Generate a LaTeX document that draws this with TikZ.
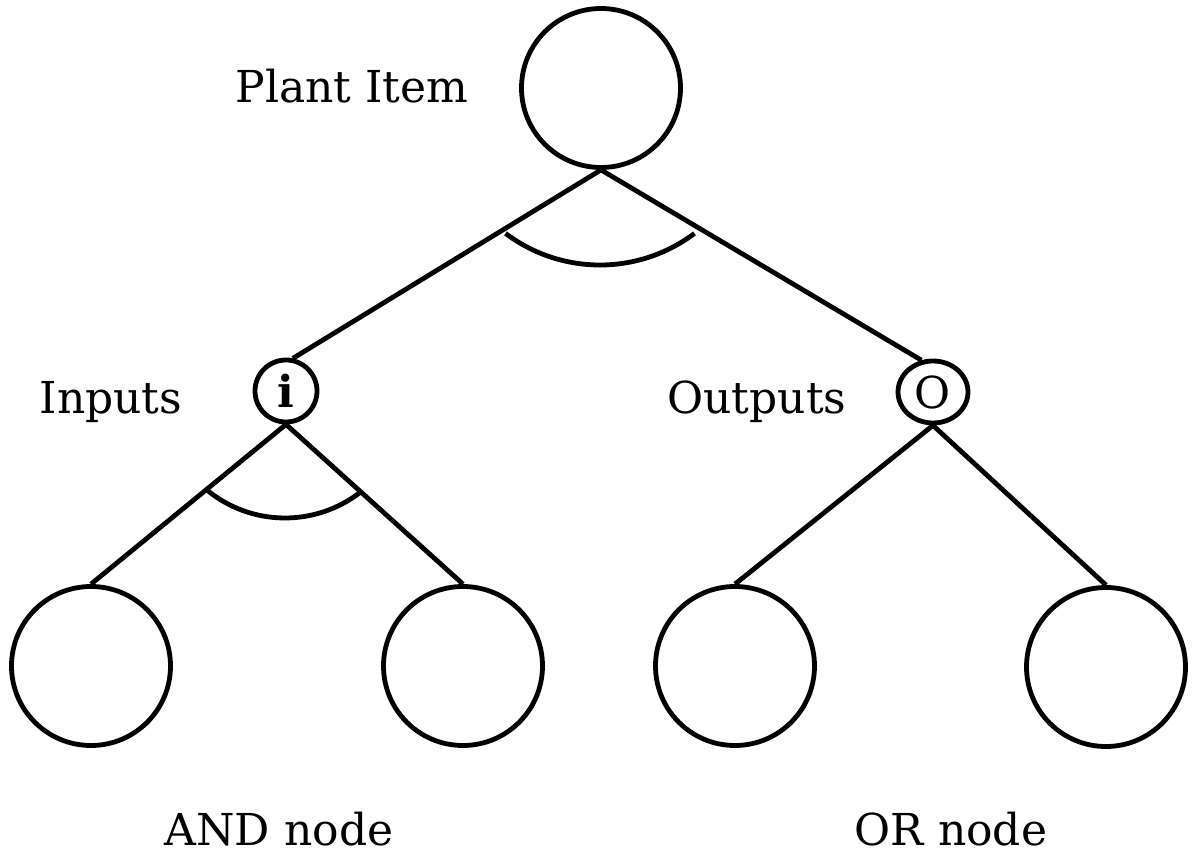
\documentclass[tikz,border=0pt]{standalone}
\usepackage{fontspec}
\setmainfont{DejaVu Serif}
\usepackage{tikz}
\usetikzlibrary{shapes.geometric}

\begin{document}
\begin{tikzpicture}[x=0.5pt,y=-0.5pt,line width=2.4pt,
    big/.style={draw,circle,minimum size=79.5pt,inner sep=0pt},
    small/.style={draw,circle,minimum size=31pt,inner sep=0pt,font=\fontsize{22}{26}\selectfont},
    oval/.style={draw,ellipse,minimum width=35pt,minimum height=31pt,inner sep=0pt,font=\fontsize{22}{26}\selectfont},
    lab/.style={anchor=base,inner sep=0pt,font=\fontsize{22}{26}\selectfont}]
  \useasboundingbox (0,0) rectangle (1199,855);

    \node[big] (a) at (601, 88) {};
    \node[small] (b) at (286, 391) {\bfseries i};
    \node[oval] (c) at (933, 392) {O};
    \node[big] (d) at (91, 666) {};
    \node[big] (e) at (463, 666) {};
    \node[big] (f) at (735, 666) {};
    \node[big] (g) at (1106, 667) {};
    \coordinate (s) at (600, 108);
    \coordinate (t) at (285, 395);

    \node[lab] (p) at (352, 103) {Plant Item};
    \node[lab] (q) at (111, 414) {Inputs};
    \node[lab] (r) at (757, 414) {Outputs};
    \node[lab] (u) at (279, 845) {AND node};
    \node[lab] (v) at (951, 845) {OR node};

    \draw (a.south) to (b.78);
    \draw (a.south) to (c.110);
    \draw (b.south) to (d.north);
    \draw (b.south) to (e.north);
    \draw (c.south) to (f.north);
    \draw (c.south) to (g.north);

    \draw ([shift={(127:157)}]s) arc[start angle=127, end angle=53, radius=157];
    \draw ([shift={(129.4:123)}]t) arc[start angle=129.4, end angle=51.8, radius=123];

\end{tikzpicture}
\end{document}
